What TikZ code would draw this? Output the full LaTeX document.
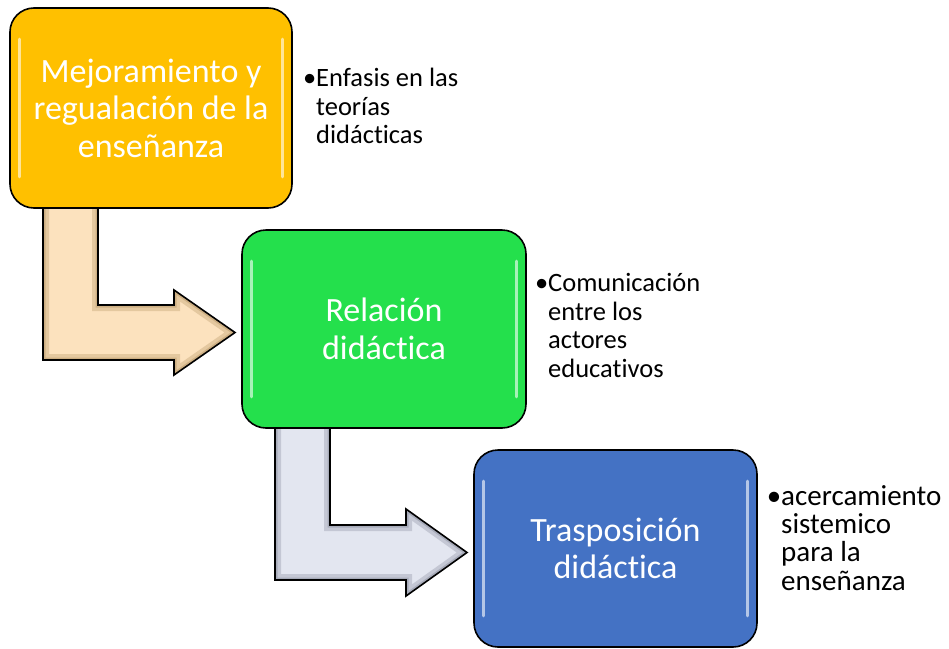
\documentclass[tikz,border=0pt]{standalone}
\usepackage{fontspec}
\setmainfont{Carlito}[Ligatures={NoCommon}]
\usetikzlibrary{calc}
\definecolor{gold}{HTML}{FFC000}
\definecolor{grn}{HTML}{24E04C}
\definecolor{blu}{HTML}{4472C4}
\definecolor{peach}{HTML}{FCE2BE}
\definecolor{peachdark}{HTML}{B89868}
\definecolor{lav}{HTML}{E3E6F0}
\definecolor{lavdark}{HTML}{8C90A0}
\begin{document}
\begin{tikzpicture}[x=1pt,y=-1pt,
  box/.style={draw=black, line width=1.6pt, rounded corners=24pt, inner sep=0pt,
    text=white, align=center, font=\fontsize{34}{37.5}\selectfont},
  side/.style={anchor=base west, inner sep=0pt, align=left, text=black,
    font=\fontsize{26.5}{28.5}\selectfont},
  sidebig/.style={side, font=\fontsize{29}{28.2}\selectfont},
  gloss/.style={white, line width=3pt, opacity=0.6, line cap=round},
  arrowline/.style={draw=black, line width=1.6pt, line join=miter}
]
\useasboundingbox (0,0) rectangle (949,648);

% ---- bent arrow 1 (under box 1, pointing to box 2)
\coordinate (a1tip) at (235,332.5);
\def\arrowA{(43,200) -- (98,200) -- (98,305) -- (174,305) -- (174,290) -- (a1tip) -- (174,375) -- (174,360) -- (43,360) -- cycle}
\fill[peach] \arrowA;
\begin{scope}
  \clip \arrowA;
  \draw[peachdark, line width=12pt, opacity=0.35, line join=miter] \arrowA;
  \draw[peachdark, line width=5pt, opacity=0.5, line join=miter] \arrowA;
\end{scope}
\draw[arrowline] \arrowA;

% ---- bent arrow 2 (under box 2, pointing to box 3)
\coordinate (a2tip) at (467,552.5);
\def\arrowB{(275,420) -- (330,420) -- (330,525) -- (406,525) -- (406,509) -- (a2tip) -- (406,596) -- (406,580) -- (275,580) -- cycle}
\fill[lav] \arrowB;
\begin{scope}
  \clip \arrowB;
  \draw[lavdark, line width=12pt, opacity=0.35, line join=miter] \arrowB;
  \draw[lavdark, line width=5pt, opacity=0.5, line join=miter] \arrowB;
\end{scope}
\draw[arrowline] \arrowB;

% ---- boxes
\node[box, fill=gold, minimum width=282pt, minimum height=200pt] (b1) at (151,108)
  {Mejoramiento y\\regualación de la\\enseñanza};
\node[box, fill=grn, minimum width=284pt, minimum height=198pt] (b2) at (384,329)
  {Relación\\didáctica};
\node[box, fill=blu, minimum width=283pt, minimum height=197pt] (b3) at (615.5,548.5)
  {Trasposición\\didáctica};

% glossy highlights
\foreach \b in {b1,b2,b3}{
  \draw[gloss] ($(\b.north west)+(10,32)$) -- ($(\b.south west)+(10,-32)$);
  \draw[gloss] ($(\b.north east)+(-10,32)$) -- ($(\b.south east)+(-10,-32)$);
}

% ---- side texts (anchored at the baseline of their last line)
\node[side] (t1) at (316,143.7) {\llap{•}Enfasis en las\\teorías\\didácticas};
\node[side] (t2) at (548,377.2) {\llap{•}Comunicación\\entre los\\actores\\educativos};
\node[sidebig] (t3) at (781,590) {\llap{•}acercamiento\\sistemico\\para la\\enseñanza};
\end{tikzpicture}
\end{document}
